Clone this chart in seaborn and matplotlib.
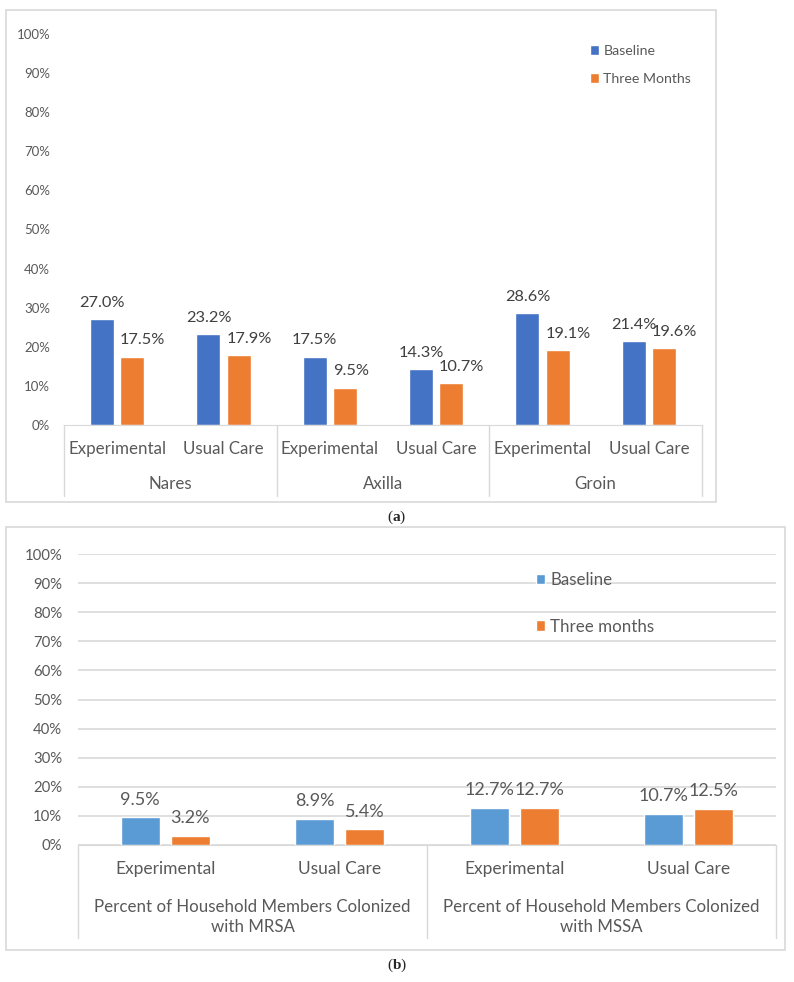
import numpy as np
import pandas as pd
import seaborn as sb
import matplotlib.pyplot as plt
import matplotlib.transforms as mtrans
from matplotlib.patches import Rectangle

# Panel (a): colonization by body site
sites = ['Nares', 'Axilla', 'Groin']
arms = ['Experimental', 'Usual Care']
baseline_a = [27.0, 23.2, 17.5, 14.3, 28.6, 21.4]
three_months_a = [17.5, 17.9, 9.5, 10.7, 19.1, 19.6]
series_a = ['Baseline', 'Three Months']

# Panel (b): household members colonized
groups_b = ['Percent of Household Members Colonized\nwith MRSA',
            'Percent of Household Members Colonized\nwith MSSA']
baseline_b = [9.5, 8.9, 12.7, 10.7]
three_months_b = [3.2, 5.4, 12.7, 12.5]
series_b = ['Baseline', 'Three months']

yticks = list(range(0, 101, 10))

W, H = 794, 982
GRAY = '#595959'
LINE = '#D9D9D9'

sb.set_style('white')
plt.rcParams['font.family'] = ['Lato', 'DejaVu Sans']
plt.rcParams['mathtext.fontset'] = 'custom'
plt.rcParams['mathtext.rm'] = 'Liberation Serif'
plt.rcParams['mathtext.bf'] = 'Liberation Serif:bold'


def fx(px):
    return px / W


def fy(py):
    return 1 - py / H


def make_df(groups, base, three, names):
    keys = [g + '|' + a for g in groups for a in arms]
    df = pd.DataFrame({'key': keys * 2,
                       'value': base + three,
                       'time': [names[0]] * len(keys) + [names[1]] * len(keys)})
    return df, keys


fig = plt.figure(figsize=(W / 100, H / 100), dpi=100)

# panel frames
fig.add_artist(Rectangle((fx(6), fy(502)), fx(710), 492 / H, transform=fig.transFigure,
                         fill=False, edgecolor=LINE, lw=1.2))
fig.add_artist(Rectangle((fx(6), fy(950)), fx(779), 423 / H, transform=fig.transFigure,
                         fill=False, edgecolor=LINE, lw=1.2))

# ---------- panel (a) ----------
ax = fig.add_axes([fx(64), fy(425), fx(638), 391 / H])
df_a, keys_a = make_df(sites, baseline_a, three_months_a, series_a)
sb.barplot(data=df_a, x='key', y='value', hue='time', order=keys_a,
           palette=['#4472C4', '#ED7D31'], saturation=1, errorbar=None,
           width=0.565, gap=0.2, ax=ax)
ax.set_xlim(-0.5, len(keys_a) - 0.5)
ax.set_ylim(0, 100)
ax.set_yticks(yticks)
ax.set_yticklabels([f'{t}%' for t in yticks])
ax.tick_params(axis='y', length=0, pad=10, labelsize=9.5, labelcolor=GRAY)
ax.set_xticks([])
ax.set_xlabel('')
ax.set_ylabel('')
sb.despine(ax=ax, left=True)
ax.spines['bottom'].set_color(LINE)

trans = mtrans.blended_transform_factory(ax.transData, ax.transAxes)
for i, k in enumerate(keys_a):
    ax.text(i, -0.0614, k.split('|')[1], transform=trans, ha='center', va='center',
            fontsize=12.2, color=GRAY)
for j, s in enumerate(sites):
    ax.text(2 * j + 0.5, -0.151, s, transform=trans, ha='center', va='center',
            fontsize=12.2, color=GRAY)
for x in [-0.5, 1.5, 3.5, 5.5]:
    ax.plot([x, x], [0, -0.1816], transform=trans, clip_on=False, color=LINE, lw=1)

# data labels: baseline centered, three months from bar left edge
for bar in ax.containers[0]:
    ax.annotate(f'{bar.get_height():.1f}%', (bar.get_x() + bar.get_width() / 2, bar.get_height()),
                xytext=(0, 9), textcoords='offset points', ha='center', va='baseline',
                fontsize=11.8, color='#404040')
for bar in ax.containers[1]:
    ax.annotate(f'{bar.get_height():.1f}%', (bar.get_x(), bar.get_height()),
                xytext=(0, 9), textcoords='offset points', ha='left', va='baseline',
                fontsize=11.8, color='#404040')

h, l = ax.get_legend_handles_labels()
ax.legend(h, l, loc='upper left', bbox_to_anchor=(fx(590), fy(45)),
          bbox_transform=fig.transFigure, frameon=False, borderpad=0, borderaxespad=0,
          fontsize=10.2, labelcolor=GRAY, handlelength=0.65, handleheight=0.65,
          handletextpad=0.3, labelspacing=1.12)

fig.text(0.5, fy(517), r'($\mathbf{a}$)', ha='center', va='center', fontsize=11,
         family='Liberation Serif')

# ---------- panel (b) ----------
ax2 = fig.add_axes([fx(78), fy(845), fx(698), 291 / H])
df_b, keys_b = make_df(groups_b, baseline_b, three_months_b, series_b)
sb.barplot(data=df_b, x='key', y='value', hue='time', order=keys_b,
           palette=['#5B9BD5', '#ED7D31'], saturation=1, errorbar=None,
           width=0.573, gap=0.22, ax=ax2, zorder=3)
ax2.set_xlim(-0.5, len(keys_b) - 0.5)
ax2.set_ylim(0, 100)
ax2.set_yticks(yticks)
ax2.set_yticklabels([f'{t}%' for t in yticks])
ax2.tick_params(axis='y', length=0, pad=11.5, labelsize=10.7, labelcolor=GRAY)
ax2.yaxis.grid(True, color=LINE, lw=1.2)
ax2.set_axisbelow(True)
ax2.set_xticks([])
ax2.set_xlabel('')
ax2.set_ylabel('')
sb.despine(ax=ax2, left=True)
ax2.spines['bottom'].set_color(LINE)

trans2 = mtrans.blended_transform_factory(ax2.transData, ax2.transAxes)
for i, k in enumerate(keys_b):
    ax2.text(i, -0.0825, k.split('|')[1], transform=trans2, ha='center', va='center',
             fontsize=12.5, color=GRAY)
for j, g in enumerate(groups_b):
    ax2.text(2 * j + 0.5, -0.247, g, transform=trans2, ha='center', va='center',
             fontsize=12.2, color=GRAY, linespacing=1.25)
for x in [-0.5, 1.5, 3.5]:
    ax2.plot([x, x], [0, -0.32], transform=trans2, clip_on=False, color=LINE, lw=1)

for cont in ax2.containers:
    ax2.bar_label(cont, labels=[f'{b.get_height():.1f}%' for b in cont], padding=7,
                  fontsize=13, color=GRAY)

h, l = ax2.get_legend_handles_labels()
ax2.legend(h, l, loc='upper left', bbox_to_anchor=(fx(536), fy(572)),
           bbox_transform=fig.transFigure, frameon=False, borderpad=0, borderaxespad=0,
           fontsize=12.2, labelcolor=GRAY, handlelength=0.55, handleheight=0.55,
           handletextpad=0.3, labelspacing=1.8)

fig.text(0.5, fy(965), r'($\mathbf{b}$)', ha='center', va='center', fontsize=11,
         family='Liberation Serif')

plt.savefig('out.png', dpi=100)
